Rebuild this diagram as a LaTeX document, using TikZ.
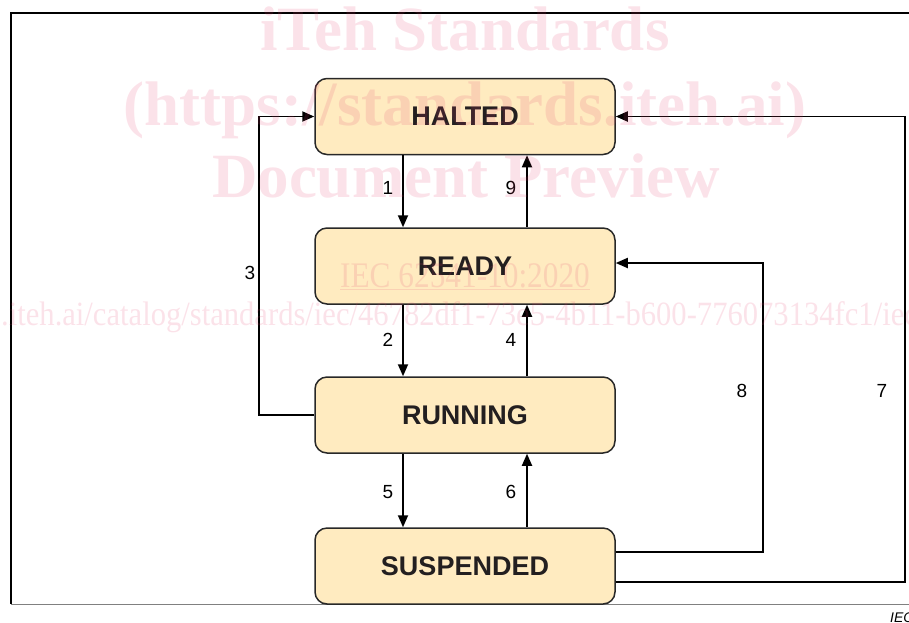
\documentclass[tikz,border=0pt]{standalone}
\usepackage{fontspec}
\setmainfont{Liberation Sans}
\newfontfamily\wmbold{Liberation Serif}[BoldFont={Liberation Serif Bold}]
\newfontfamily\wmcond{Liberation Serif}[FakeStretch=0.9]
\newfontfamily\wmcondb{Liberation Serif}[FakeStretch=0.87]
\usetikzlibrary{arrows.meta,calc}
\definecolor{boxfill}{RGB}{255,235,192}
\definecolor{boxline}{RGB}{40,40,40}
\definecolor{wmpink}{RGB}{228,62,108}
\tikzset{
  state/.style={draw=boxline, line width=1.5pt, fill=boxfill, rounded corners=12pt,
    minimum width=300pt, minimum height=76pt, inner sep=0pt,
    font=\bfseries\fontsize{27}{27}\selectfont, text={rgb,255:red,35;green,31;blue,32}},
  conn/.style={line width=1.8pt, -{Triangle[length=12pt,width=10pt]}},
  lab/.style={font=\fontsize{19}{19}\selectfont, inner sep=0pt},
  wm/.style={text=wmpink, opacity=0.15, inner sep=0pt, anchor=base},
}
\begin{document}
\begin{tikzpicture}[x=1pt,y=-1pt]
\useasboundingbox (0,0) rectangle (909,622);
% frame
\draw[line width=1.8pt] (909,13) -- (11,13) -- (11,604);
\draw[line width=1pt, gray] (11,604) -- (909,604);
\node[anchor=base west, inner sep=0pt, font=\itshape\fontsize{14}{14}\selectfont] (iec) at (890,622) {IEC};
% states
\node[state] (halted) at (465,116.5) {HALTED};
\node[state] (ready) at (465,266) {READY};
\node[state] (running) at (465,415) {RUNNING};
\node[state] (susp) at (465,566) {SUSPENDED};
\coordinate (xL) at (403,0);
\coordinate (xR) at (527,0);
% vertical transitions
\draw[conn] (halted.south -| xL) -- (ready.north -| xL);
\draw[conn] (ready.north -| xR) -- (halted.south -| xR);
\draw[conn] (ready.south -| xL) -- (running.north -| xL);
\draw[conn] (running.north -| xR) -- (ready.south -| xR);
\draw[conn] (running.south -| xL) -- (susp.north -| xL);
\draw[conn] (susp.north -| xR) -- (running.south -| xR);
% loops
\draw[conn] (running.west) -- ++(-55,0) |- (halted.west);
\draw[conn] ([yshift=14pt]susp.east) -- ++(147,0) |- ([yshift=3pt]ready.east);
\draw[conn] ([yshift=-16pt]susp.east) -- ++(289,0) |- (halted.east);
% labels
\node[lab] (l1) at (388,188) {1};
\node[lab] (l9) at (511,188) {9};
\node[lab] (l2) at (388,340) {2};
\node[lab] (l4) at (511,340) {4};
\node[lab] (l5) at (388,492) {5};
\node[lab] (l6) at (511,492) {6};
\node[lab] (l3) at (250,273) {3};
\node[lab] (l8) at (742,391) {8};
\node[lab] (l7) at (882,391) {7};
% watermark
\begin{scope}
\clip (0,0) rectangle (909,622);
\node[wm, font=\wmbold\bfseries\fontsize{63}{63}\selectfont] (w1) at (465,50) {iTeh Standards};
\node[wm, font=\wmbold\bfseries\fontsize{63}{63}\selectfont] (w2) at (465,125) {(https://standards.iteh.ai)};
\node[wm, font=\wmbold\bfseries\fontsize{63}{63}\selectfont] (w3) at (466,197) {Document Preview};
\node[wm, font=\wmcondb\fontsize{36}{36}\selectfont] (w4) at (465,287) {\underline{IEC 62541-10:2020}};
\node[wm, anchor=base east, font=\wmcond\fontsize{34}{34}\selectfont] (w5a) at (1,325) {https://standards};
\node[wm, anchor=base west, font=\wmcond\fontsize{34}{34}\selectfont] (w5b) at (1,325) {.iteh.ai/catalog/standards/iec/46782df1-73e5-4b11-b600-776073134fc1/iec-62541-10-2020};
\end{scope}
\end{tikzpicture}
\end{document}
